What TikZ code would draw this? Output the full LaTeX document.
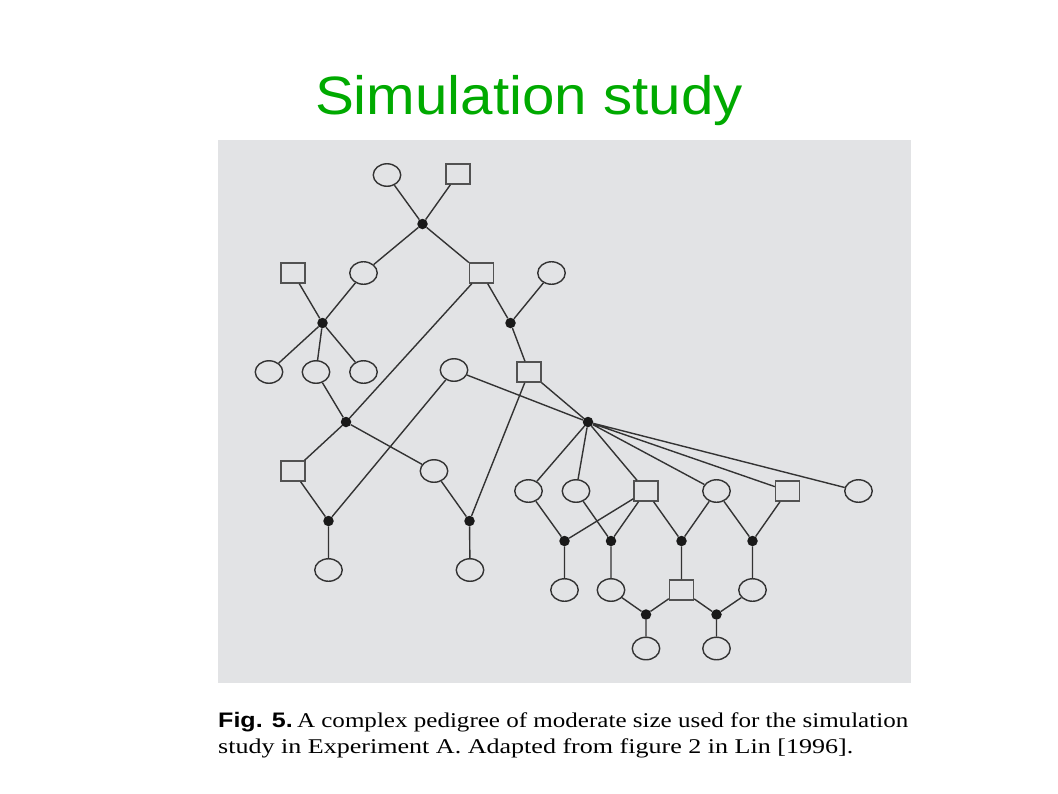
\documentclass[tikz,border=0pt]{standalone}
\usepackage{fontspec}
\usepackage{graphicx}
\setmainfont{Liberation Serif}
\newfontfamily\titlefont{Liberation Sans}
\usetikzlibrary{shapes.geometric}
\definecolor{bggray}{HTML}{E2E3E5}
\definecolor{titlegreen}{HTML}{00AA00}
\definecolor{linegray}{HTML}{333333}
\tikzset{
  fem/.style={ellipse, draw=linegray, line width=1.4pt, fill=bggray, minimum width=27.5pt, minimum height=22.5pt, inner sep=0pt},
  mal/.style={rectangle, draw=linegray!85, line width=1.4pt, fill=bggray, minimum width=24pt, minimum height=20pt, inner sep=0pt},
  mate/.style={circle, fill=black!90, minimum size=10.5pt, inner sep=0pt},
  edge/.style={draw=linegray, line width=1.4pt},
  captxt/.style={anchor=base west, inner sep=0pt, font={\fontsize{21}{26}\selectfont}}
}
\begin{document}
\begin{tikzpicture}[x=1pt,y=-1pt]
\useasboundingbox (0,0) rectangle (1058,793);
\fill[white] (0,0) rectangle (1058,793);
\fill[bggray] (218,140) rectangle (911,683);
\node[text=titlegreen, font={\titlefont\fontsize{54}{60}\selectfont}, anchor=base, inner sep=0pt] (title) at (529,114) {\resizebox{428pt}{\height}{Simulation study}};

% generation 1
\node[fem] (a1) at (387,175) {};
\node[mal] (a2) at (458,174) {};
\node[mate] (m1) at (422.5,224) {};
% generation 2
\node[mal] (b1) at (293,273) {};
\node[fem] (b2) at (363.5,273) {};
\node[mal] (b3) at (481.5,273) {};
\node[fem] (b4) at (551.5,273) {};
\node[mate] (m2) at (322.5,323) {};
\node[mate] (m3) at (510.5,323) {};
% generation 3
\node[fem] (c1) at (269,372) {};
\node[fem] (c2) at (316,372) {};
\node[fem] (c3) at (363.5,372) {};
\node[fem] (c4) at (454,370) {};
\node[mal] (c5) at (529,372) {};
\node[mate] (m4) at (346,422) {};
\node[mate] (m5) at (588,422) {};
% generation 4 left
\node[mal] (d1) at (293,471) {};
\node[fem] (d2) at (434,471) {};
\node[mate] (m6) at (328.5,521) {};
\node[mate] (m7) at (469.5,521) {};
\node[fem] (e1) at (328.5,570) {};
\node[fem] (e2) at (470,570) {};
% generation 4 right
\node[fem] (f1) at (528.5,491) {};
\node[fem] (f2) at (576,491) {};
\node[mal] (f3) at (646,491) {};
\node[fem] (f4) at (716.5,491) {};
\node[mal] (f5) at (787.5,491) {};
\node[fem] (f6) at (858.5,491) {};
\node[mate] (m8) at (564.5,541) {};
\node[mate] (m9) at (611,541) {};
\node[mate] (m10) at (681.5,541) {};
\node[mate] (m11) at (752.5,541) {};
\node[fem] (g1) at (564.5,590) {};
\node[fem] (g2) at (611,590) {};
\node[mal] (g3) at (681.5,590) {};
\node[fem] (g4) at (752.5,590) {};
\node[mate] (m12) at (646,614.5) {};
\node[mate] (m13) at (716.5,614.5) {};
\node[fem] (h1) at (646,648.5) {};
\node[fem] (h2) at (716.5,648.5) {};

\path[edge]
  (a1) -- (m1) (a2) -- (m1)
  (m1) -- (b2) (m1) -- (b3)
  (b1) -- (m2) (b2) -- (m2)
  (m2) -- (c1) (m2) -- (c2) (m2) -- (c3)
  (b3) -- (m3) (b4) -- (m3) (m3) -- (c5)
  (b3) -- (m4) (c2) -- (m4)
  (m4) -- (d1) (m4) -- (d2)
  (d1) -- (m6) (c4) -- (m6) (m6) -- (e1)
  (d2) -- (m7) (c5) -- (m7) (m7) -- (e2)
  (c4) -- (m5) (c5) -- (m5)
  (m5) -- (f1) (m5) -- (f2) (m5) -- (f3) (m5) -- (f4) (m5) -- (f5) (m5) -- (f6)
  (f1) -- (m8) (f3) -- (m8)
  (f2) -- (m9) (f3) -- (m9)
  (f3) -- (m10) (f4) -- (m10)
  (f4) -- (m11) (f5) -- (m11)
  (m8) -- (g1) (m9) -- (g2) (m10) -- (g3) (m11) -- (g4)
  (g2) -- (m12) (g3) -- (m12)
  (g3) -- (m13) (g4) -- (m13)
  (m12) -- (h1) (m13) -- (h2);

\node[captxt] (cap1) at (218,727.5)
  {\resizebox{690pt}{\height}{{\titlefont\bfseries Fig. 5.}\,A complex pedigree of moderate size used for the simulation}};
\node[captxt] (cap2) at (218,753)
  {\resizebox{635pt}{\height}{study in Experiment A. Adapted from figure 2 in Lin [1996].}};
\end{tikzpicture}
\end{document}
